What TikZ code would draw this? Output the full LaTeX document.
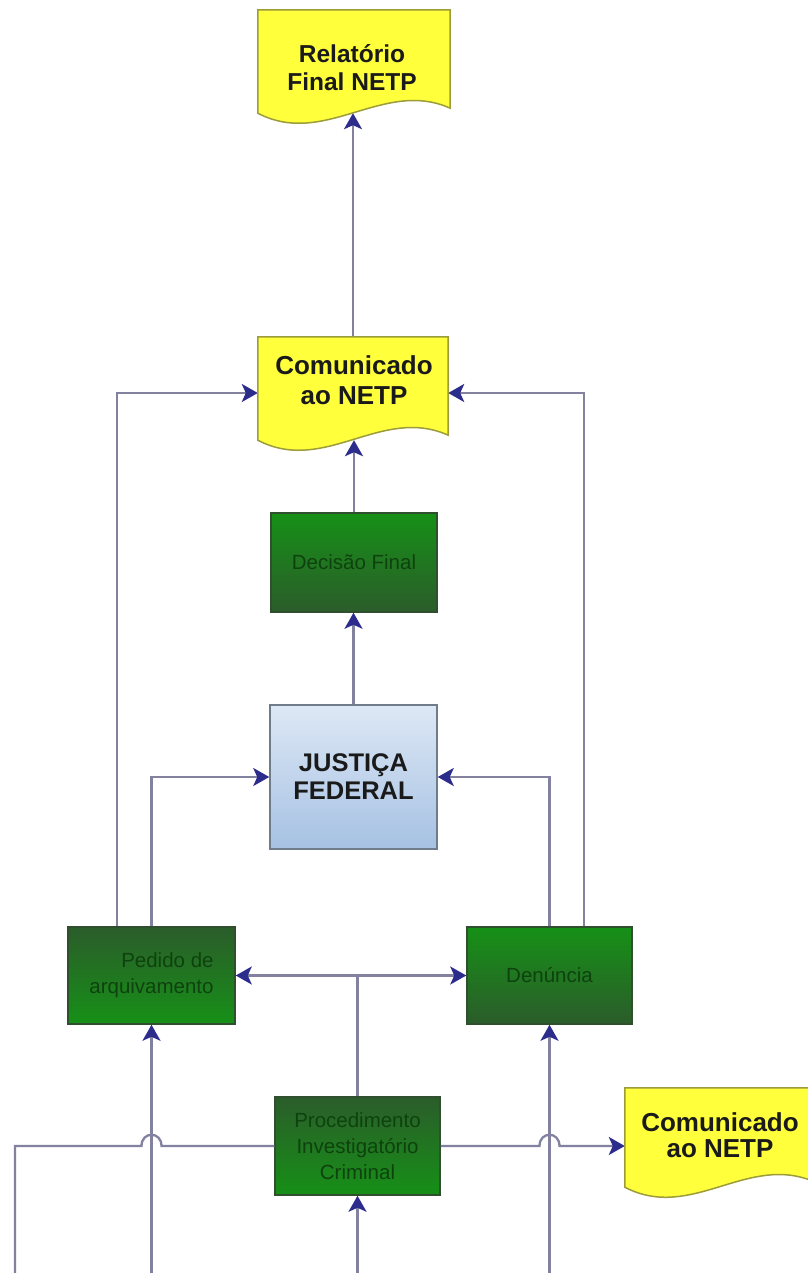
\documentclass[tikz,border=0pt]{standalone}
\usepackage{fontspec}
\setmainfont{Liberation Sans}
\usetikzlibrary{arrows.meta,calc}

\definecolor{docyellow}{HTML}{FFFF3C}
\definecolor{docedge}{HTML}{9C9C3A}
\definecolor{linegray}{HTML}{8282A0}
\definecolor{tipblue}{HTML}{2C2C8C}
\definecolor{greenlight}{HTML}{169016}
\definecolor{greendark}{HTML}{2B5C2B}
\definecolor{greenedge}{HTML}{2F4F2F}
\definecolor{greentext}{HTML}{0E420E}
\definecolor{bluetop}{HTML}{DDE8F5}
\definecolor{bluebottom}{HTML}{A6C1E3}
\definecolor{blueedge}{HTML}{6E7C8C}
\definecolor{inktext}{HTML}{1A1A1A}

\tikzset{
  conn/.style={draw=linegray, line width=2.3pt,
    -{Stealth[length=16pt,width=18pt,inset=4pt,color=tipblue]}},
  plainline/.style={draw=linegray, line width=2.3pt},
  box/.style={rectangle, inner sep=0pt, line width=1.5pt,
    font=\fontsize{20.5}{26}\selectfont, text=greentext, align=center},
  greenup/.style={box, draw=greenedge, top color=greenlight, bottom color=greendark},
  greendown/.style={box, draw=greenedge, top color=greendark, bottom color=greenlight},
  court/.style={rectangle, inner sep=0pt, line width=1.5pt, draw=blueedge,
    top color=bluetop, bottom color=bluebottom,
    font=\bfseries\fontsize{25.5}{28}\selectfont, text=inktext, align=center},
  docarea/.style={rectangle, inner sep=0pt, draw=none},
  doctext/.style={font=\bfseries\fontsize{25}{29}\selectfont, text=inktext,
    align=center, inner sep=0pt},
  docshape/.style={fill=docyellow, draw=docedge, line width=1.5pt},
}

% document symbol: flat top, wavy bottom edge
\newcommand\docoutline[1]{%
  \path[docshape] (#1.north west) -- (#1.north east) -- ([yshift=5pt]#1.south east)
    .. controls ([xshift=-67pt,yshift=35pt]#1.south east)
       and ([xshift=67pt,yshift=-35pt]#1.south west) .. (#1.south west) -- cycle;}

\begin{document}
\begin{tikzpicture}[x=1pt,y=-1pt]
  \fill[white] (0,0) rectangle (807,1273);
  \useasboundingbox (0,0) rectangle (807,1273);

  % document areas
  \node[docarea, minimum width=192pt, minimum height=103pt] (rel) at (354,61.5) {};
  \node[docarea, minimum width=190pt, minimum height=103pt] (com1) at (353,388.5) {};
  \node[docarea, minimum width=190pt, minimum height=99pt] (com2) at (720,1137.5) {};

  % process boxes
  \node[greenup, minimum width=166pt, minimum height=99pt] (dec) at (354,562.5) {Decisão Final};
  \node[court, minimum width=167pt, minimum height=144pt] (jus) at (353.5,777) {JUSTIÇA\\FEDERAL};
  \node[greendown, align=right, minimum width=167pt, minimum height=97pt] (ped) at (151.5,975.5) {Pedido de\\arquivamento};
  \node[greenup, minimum width=165pt, minimum height=97pt] (den) at (549.5,975.5) {Denúncia};
  \node[greendown, minimum width=165pt, minimum height=98pt] (proc) at (357.5,1146) {Procedimento\\Investigatório\\Criminal};

  % helper points
  \coordinate (pedL) at ([xshift=50pt]ped.north west);
  \coordinate (denR) at ([xshift=-49pt]den.north east);
  \coordinate (split) at (proc.north |- ped.east);
  \coordinate (feedA) at (ped.south |- 0,1273);
  \coordinate (feedB) at (proc.south |- 0,1273);
  \coordinate (feedC) at (den.south |- 0,1273);
  \coordinate (feedL) at (15,1273);
  \coordinate (hopA) at (feedA |- proc.west);
  \coordinate (hopB) at (feedC |- proc.west);

  % connectors
  \draw[conn] (com1.north) -- (com1.north |- rel.south);
  \draw[conn] (dec.north) -- (dec.north |- com1.south);
  \draw[conn] (jus.north) -- (jus.north |- dec.south);
  \draw[conn] (pedL) |- ([yshift=-4.5pt]com1.west);
  \draw[conn] (ped.north) |- (jus.west);
  \draw[conn] (den.north) |- (jus.east);
  \draw[conn] (denR) |- ([yshift=-4.5pt]com1.east);
  \draw[conn] (proc.north) -- (split) -- (ped.east);
  \draw[conn] (split) -- (den.west);
  \draw[conn] (feedA) -- (ped.south);
  \draw[conn] (feedB) -- (proc.south);
  \draw[conn] (feedC) -- (den.south);
  \draw[plainline] (feedL) |- ([xshift=-10pt]hopA)
    .. controls +(0,-15) and +(0,-15) .. ([xshift=10pt]hopA) -- (proc.west);
  \draw[conn] (proc.east) -- ([xshift=-10pt]hopB)
    .. controls +(0,-15) and +(0,-15) .. ([xshift=10pt]hopB) -- (proc.east -| com2.west);

  % document symbols and their texts
  \docoutline{rel}
  \docoutline{com1}
  \docoutline{com2}
  \node[doctext, font=\bfseries\fontsize{24.5}{28}\selectfont] (rel-t) at (352,68) {Relatório\\Final NETP};
  \node[doctext, font=\bfseries\fontsize{26}{30}\selectfont] (com1-t) at (354,380) {Comunicado\\ao NETP};
  \node[doctext, font=\bfseries\fontsize{26}{26}\selectfont] (com2-t) at (720,1135) {Comunicado\\ao NETP};
\end{tikzpicture}
\end{document}
